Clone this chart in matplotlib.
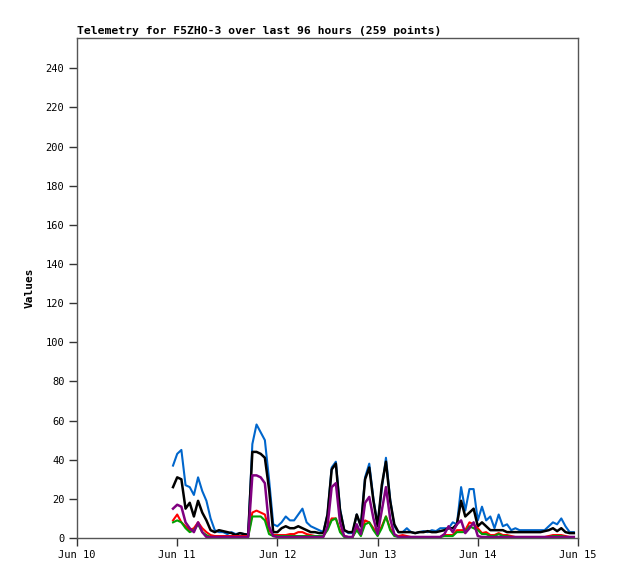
import numpy as np
import matplotlib
matplotlib.use('Agg')
import matplotlib.pyplot as plt
import matplotlib.dates as mdates

# hourly samples, hours after Jun 10 00:00
start = np.datetime64('2024-06-10T00:00')
hours = np.arange(23, 120)

blue = [37, 43, 45, 27, 26, 22, 31, 24, 19, 10, 4, 3, 3, 2, 3, 2, 2.5, 2, 2,
        48, 58, 54, 50, 30, 7, 6, 8, 11, 9, 9, 12, 15, 8, 6, 5, 4, 3,
        12, 36, 39, 15, 4, 2.5, 2.5, 12, 6, 31, 38, 20, 7, 25, 41, 20, 6,
        3, 3, 5, 3, 2.5, 3, 3.5, 3, 4, 3.5, 5, 5, 5, 8, 7, 26, 14, 25, 25,
        9, 16, 9, 11, 5, 12, 6, 7, 4, 5, 4, 4, 4, 4, 4, 4, 4, 6, 8, 7, 10,
        6, 3, 3]
black = [26, 31, 30, 15, 18, 11, 19, 13, 9, 4, 3, 4, 3.5, 3, 2.5, 1.5, 2.5, 2, 1.5,
         44, 44, 43, 41, 25, 3, 3, 5, 6, 5, 5, 6, 5, 4, 3, 3, 2.5, 2.5,
         12, 35, 38, 14, 4, 3, 3, 12, 6, 30, 36, 19, 6, 27, 39, 19, 7,
         3, 3, 3, 3, 2.5, 3, 3, 3.5, 3, 3, 3.5, 4, 5, 5, 7, 19, 11, 13, 15,
         6, 8, 6, 4, 4, 4, 4, 3, 3, 3, 3, 3, 3, 3, 3, 3, 3.5, 4, 5, 3.5, 5,
         3, 2.5, 2.5]
purple = [15, 17, 16, 8, 5, 3, 8, 3, 0.5, 0.5, 0.5, 0.5, 0.5, 0.5, 0.5, 0.5, 0.5, 0.5, 0.5,
          32, 32, 31, 28, 6, 1, 0.5, 0.5, 0.5, 0.5, 0.5, 0.5, 0.5, 0.5, 0.5, 0.5, 0.5, 0.5,
          6, 26, 28, 8, 1, 0.5, 0.5, 7, 2, 18, 21, 10, 2, 14, 26, 10, 2,
          0.5, 0.5, 0.5, 0.5, 0.5, 0.5, 0.5, 0.5, 0.5, 0.5, 0.5, 2, 6, 3, 7, 9, 2.5, 5, 8,
          1, 0.5, 0.5, 0.5, 0.5, 0.5, 0.5, 0.5, 0.5, 0.5, 0.5, 0.5, 0.5, 0.5, 0.5, 0.5,
          0.5, 0.5, 0.5, 0.5, 0.5, 0.5, 0.5, 0.5]
red = [9, 12, 8, 6, 4, 5, 8, 5, 3, 1.5, 1, 1, 1, 1, 1, 1, 1, 1, 1,
       13, 14, 13, 12, 4, 1.5, 1.5, 1.5, 1.5, 2, 2, 3, 3, 2, 1.5, 1, 1, 1,
       5, 10, 10, 4, 1, 0.5, 0.5, 5, 1.5, 9, 8, 5, 1.5, 6, 11, 5, 1.5,
       1, 1.5, 1, 0.5, 0.5, 0.5, 0.5, 0.5, 0.5, 0.5, 0.5, 1.5, 1.5, 1.5, 4, 4, 4, 8, 7,
       5, 2.5, 3, 1.5, 1.5, 2.5, 1.5, 1.5, 1, 0.5, 0.5, 0.5, 0.5, 0.5, 0.5, 0.5, 0.5,
       1, 1.5, 1.5, 1.5, 1, 0.5, 0.5]
green = [8, 9, 8, 5, 3, 4, 7, 3, 1.5, 0.5, 0.5, 0.5, 0.5, 0.5, 0.5, 0.5, 0.5, 0.5, 0.5,
         11, 11, 11, 9, 2, 1, 1, 1, 1, 1, 1, 1, 1, 1, 1, 1, 1, 1,
         4, 9, 10, 3, 0.5, 0.5, 0.5, 4, 1, 7, 8, 4, 1, 5, 11, 4, 1,
         0.5, 0.5, 0.5, 0.5, 0.5, 0.5, 0.5, 0.5, 0.5, 0.5, 0.5, 1, 1, 1, 3, 3, 3, 6, 5,
         4, 2, 2, 1, 1, 2, 1, 1, 0.5, 0.5, 0.5, 0.5, 0.5, 0.5, 0.5, 0.5, 0.5,
         0.5, 1, 1, 1, 0.5, 0.5, 0.5]

times = start + hours * np.timedelta64(1, 'h')

mono = 'DejaVu Sans Mono'
fig = plt.figure(figsize=(6.18, 5.79), dpi=100)
ax = fig.add_axes([77/618, 41/579, 501/618, 500/579])

ax.plot(times, blue, color='#0066cc', lw=1.5)
ax.plot(times, black, color='black', lw=1.8)
ax.plot(times, red, color='#ff0000', lw=1.5)
ax.plot(times, green, color='#00a000', lw=1.5)
ax.plot(times, purple, color='#800080', lw=1.8)

ax.set_xlim(np.datetime64('2024-06-10'), np.datetime64('2024-06-15'))
ax.set_ylim(0, 255.5)
ax.set_yticks(range(0, 241, 20))
ax.xaxis.set_major_locator(mdates.DayLocator())
ax.xaxis.set_major_formatter(mdates.DateFormatter('%b %d'))

for s in ax.spines.values():
    s.set_color('#555555')
    s.set_linewidth(1)
ax.tick_params(direction='out', length=6, width=1, color='#333333',
               labelsize=7.5, pad=3)
for lab in ax.get_xticklabels() + ax.get_yticklabels():
    lab.set_family(mono)

ax.set_ylabel('Values', family=mono, fontsize=8, fontweight='bold', labelpad=8)
ax.set_title('Telemetry for F5ZHO-3 over last 96 hours (259 points)',
             family=mono, fontsize=8.2, fontweight='bold', loc='left', pad=3)

fig.savefig('out.png', dpi=100)
